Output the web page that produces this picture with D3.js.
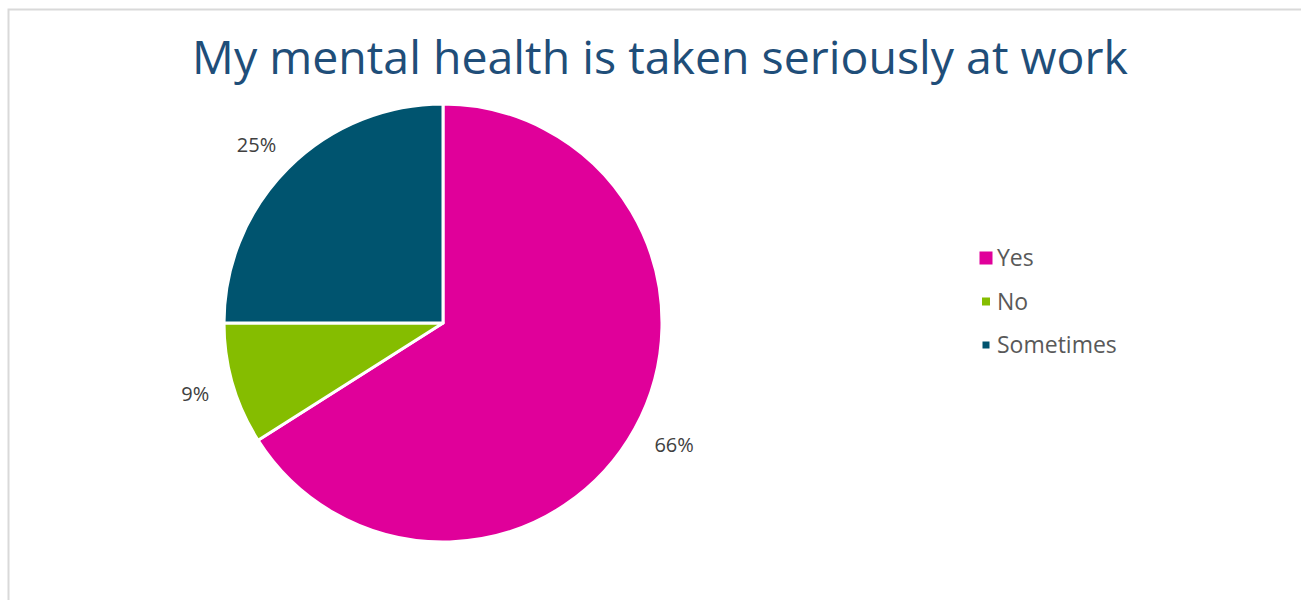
<!DOCTYPE html>
<html>
<head>
<meta charset="utf-8">
<script src="https://cdn.jsdelivr.net/npm/d3@7"></script>
<style>
  html, body { margin: 0; padding: 0; background: #fff; }
  svg { display: block; }
</style>
</head>
<body>
<svg id="chart" width="1301" height="600"></svg>
<script>
const categories = ["Yes", "No", "Sometimes"];
const values = [66, 9, 25];
const labels = ["66%", "9%", "25%"];
const colors = ["#e0009a", "#85bd00", "#00546f"];
const title = "My mental health is taken seriously at work";

const svg = d3.select("#chart");
const W = 1301, H = 600;
const FONT = "'Open Sans', 'DejaVu Sans', sans-serif";

// chart area frame (light gray, open on the right/bottom edges)
svg.append("rect")
  .attr("x", 8.5).attr("y", 9.5)
  .attr("width", W).attr("height", H)
  .attr("fill", "#fff")
  .attr("stroke", "#d9d9d9")
  .attr("stroke-width", 2);

// title, sized to span its measured width
const titleText = svg.append("text")
  .attr("x", 660).attr("y", 74)
  .attr("text-anchor", "middle")
  .attr("font-family", FONT)
  .attr("font-size", 44)
  .attr("fill", "#1f4e79")
  .text(title);
const tw = titleText.node().getComputedTextLength();
titleText.attr("font-size", 44 * 936 / tw);

// pie
const cx = 443, cy = 323, r = 219;
const pie = d3.pie().sort(null).value(d => d.value);
const data = pie(categories.map((c, i) => ({ cat: c, value: values[i], label: labels[i], color: colors[i] })));
const arc = d3.arc().innerRadius(0).outerRadius(r);
const anchorArc = d3.arc().innerRadius(r + 25).outerRadius(r + 25);

const g = svg.append("g").attr("transform", `translate(${cx},${cy})`);
g.selectAll("path.slice")
  .data(data)
  .join("path")
  .attr("class", "slice")
  .attr("d", arc)
  .attr("fill", d => d.data.color)
  .attr("stroke", "#fff")
  .attr("stroke-width", 3)
  .attr("stroke-linejoin", "round");

// outside-end labels: push the label box outward along the slice's mid angle
const lbls = g.selectAll("text.lbl")
  .data(data)
  .join("text")
  .attr("class", "lbl")
  .attr("text-anchor", "middle")
  .attr("dominant-baseline", "central")
  .attr("font-family", FONT)
  .attr("font-size", 20)
  .attr("fill", "#404040")
  .text(d => d.data.label);
lbls.each(function (d) {
  const w = this.getComputedTextLength();
  const h = 16;
  const a = (d.startAngle + d.endAngle) / 2;
  const [px, py] = anchorArc.centroid(d);
  const x = px + (w / 2) * Math.sin(a);
  const y = py - (h / 2) * Math.cos(a);
  d3.select(this).attr("x", x).attr("y", y);
});

// legend
const legendY = d3.scalePoint().domain(categories).range([257, 344]);
const markerSize = { "Yes": 13, "No": 8, "Sometimes": 7 };
const lg = svg.append("g");
categories.forEach((c, i) => {
  const y = legendY(c);
  const s = markerSize[c];
  lg.append("rect")
    .attr("x", 986 - s / 2).attr("y", y + 1 - s / 2)
    .attr("width", s).attr("height", s)
    .attr("fill", colors[i]);
  lg.append("text")
    .attr("x", 997).attr("y", y)
    .attr("dominant-baseline", "central")
    .attr("font-family", FONT)
    .attr("font-size", 23)
    .attr("fill", "#595959")
    .text(c);
});
</script>
</body>
</html>
